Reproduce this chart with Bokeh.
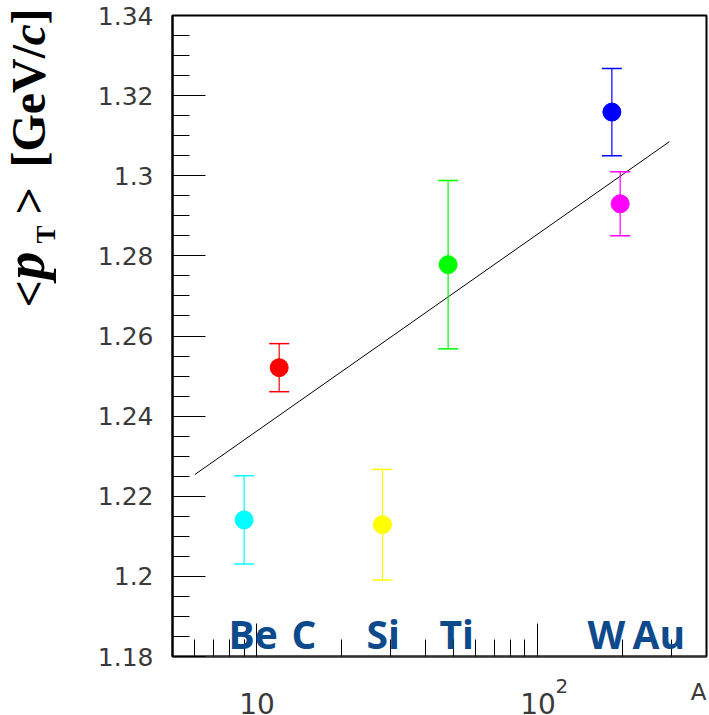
import math
from bokeh.plotting import figure
from bokeh.models import Range1d, FixedTicker, Label, CustomJSTickFormatter
from bokeh.embed import file_html
from bokeh.resources import INLINE

# ---- data ----
elements = ["Be", "C", "Si", "Ti", "W", "Au"]
mass_A = [9, 12, 28, 48, 184, 197]
mean_pt = [1.2141, 1.2521, 1.2129, 1.2778, 1.3159, 1.2930]
pt_err = [0.0110, 0.0060, 0.0138, 0.0210, 0.0109, 0.0080]
colors = ["#00ffff", "#ff0000", "#ffff00", "#00ff00", "#0000ff", "#ff00ff"]
fit_A = [6.0, 295.0]
fit_pt = [1.2254, 1.3085]
y_ticks = [1.18, 1.20, 1.22, 1.24, 1.26, 1.28, 1.30, 1.32, 1.34]
y_minor = [round(1.18 + 0.005 * i, 3) for i in range(33)]
x_ticks = [10, 100]
x_minor = [6, 7, 8, 9, 20, 30, 40, 50, 60, 70, 80, 90, 200, 300]

X0, X1 = 5.0, 400.0
Y0, Y1 = 1.18, 1.34
W, H = 709, 715
FL, FR, FT, FB = 172, 706, 15, 656   # frame in pixels
THIN = "DejaVu Sans"


def ax(px):
    return 10 ** (math.log10(X0) + (px - FL) * (math.log10(X1) - math.log10(X0)) / (FR - FL))


def ay(py):
    return Y0 + (FB - py) * (Y1 - Y0) / (FB - FT)


p = figure(width=W, height=H, x_axis_type="log", output_backend="svg",
           toolbar_location=None, x_range=Range1d(X0, X1), y_range=Range1d(Y0, Y1),
           min_border_left=FL, min_border_right=W - FR, min_border_top=FT,
           min_border_bottom=H - FB)
p.background_fill_color = "white"
p.border_fill_color = "white"
p.grid.visible = False
p.outline_line_color = "black"
p.outline_line_width = 2

# axes
for a in (p.xaxis[0], p.yaxis[0]):
    a.axis_line_color = "black"
    a.axis_line_width = 2
    a.major_tick_in = 33
    a.major_tick_out = 0
    a.minor_tick_in = 17
    a.minor_tick_out = 0
    a.major_tick_line_color = "black"
    a.minor_tick_line_color = "black"
    a.major_tick_line_width = 1
    a.minor_tick_line_width = 1

p.yaxis.ticker = FixedTicker(ticks=y_ticks, minor_ticks=y_minor)
p.yaxis.formatter = CustomJSTickFormatter(code="return (Math.round(tick*1000)/1000).toString();")
p.yaxis.major_label_text_font = THIN
p.yaxis.major_label_text_font_size = "25px"
p.yaxis.major_label_text_color = "#3a3a3a"
p.yaxis.major_label_standoff = 19

p.xaxis.ticker = FixedTicker(ticks=x_ticks, minor_ticks=x_minor)
p.xaxis.major_label_text_font_size = "12px"
p.xaxis.major_label_text_alpha = 0
p.xaxis.axis_line_color = "#333333"

# fit line
p.line(fit_A, fit_pt, line_color="black", line_width=1)

# error bars
lo = [m - e for m, e in zip(mean_pt, pt_err)]
hi = [m + e for m, e in zip(mean_pt, pt_err)]
p.segment(x0=mass_A, y0=lo, x1=mass_A, y1=hi, line_color=colors, line_width=1.2)
p.scatter(mass_A, lo, marker="dash", size=20, line_color=colors, line_width=1.5)
p.scatter(mass_A, hi, marker="dash", size=20, line_color=colors, line_width=1.5)
p.scatter(mass_A, mean_pt, marker="circle", size=18, fill_color=colors, line_color=colors)

# element labels
elem_px = [228, 291, 366, 439, 587, 632]
for name, px in zip(elements, elem_px):
    p.add_layout(Label(x=ax(px), y=ay(633), text=name, text_font="Open Sans",
                       text_font_style="bold", text_font_size="39px",
                       text_color="#0d4a8c", text_align="left",
                       text_baseline="alphabetic"))

# ---- transparent overlay (pixel coordinates) for texts outside the frame ----
q = figure(width=W, height=H, output_backend="svg", toolbar_location=None,
           x_range=Range1d(0, W), y_range=Range1d(H, 0), min_border=0,
           x_axis_location=None, y_axis_location=None)
q.grid.visible = False
q.outline_line_color = None
q.background_fill_alpha = 0
q.border_fill_alpha = 0
q.styles = {"position": "absolute", "left": "0px", "top": "0px"}

below_parts = [
    ("10", 256.5, 703, "28px", "center"),
    ("10", 537.5, 703, "28px", "center"),
    ("2", 555, 685, "20px", "left"),
    ("A", 706, 691, "23px", "right"),
]
for txt, px, py, size, align in below_parts:
    q.add_layout(Label(x=px, y=py, text=txt, text_font=THIN,
                       text_font_size=size, text_color="#3a3a3a",
                       text_align=align, text_baseline="alphabetic"))

title_parts = [
    ("<", 307, 28, "48px", "bold"),
    ("p", 279, 24, "56px", "bold italic"),
    ("T", 243, 45, "27px", "bold"),
    (">", 214, 28, "48px", "bold"),
    ("[GeV/", 167, 28, "48px", "bold"),
    ("c", 45, 28, "48px", "bold italic"),
    ("]", 24, 28, "48px", "bold"),
]
for txt, py, px, size, style in title_parts:
    q.add_layout(Label(x=px, y=py, text=txt, text_font="Liberation Serif",
                       text_font_style=style, text_font_size=size, text_color="black",
                       angle=math.pi / 2, text_align="left", text_baseline="alphabetic"))

open("out.html", "w").write(file_html([p, q], INLINE))
